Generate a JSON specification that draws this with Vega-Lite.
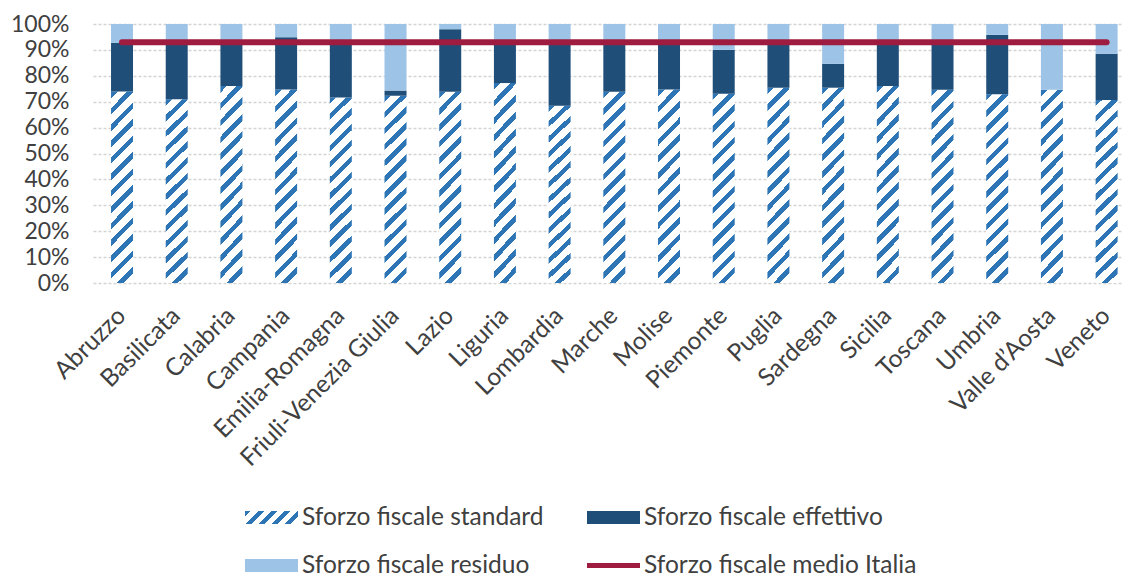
{
  "$schema": "https://vega.github.io/schema/vega-lite/v6.json",
  "width": 1030,
  "height": 259,
  "autosize": {"type": "none"},
  "padding": {"left": 93, "top": 24, "right": 0, "bottom": 297},
  "background": "white",
  "config": {
    "font": "Lato",
    "view": {"stroke": null},
    "axis": {"labelFont": "Lato", "labelFontSize": 23, "labelColor": "#404040", "domain": false, "ticks": false, "title": null, "labelOverlap": false}
  },
  "data": {"values": [
    {"region": "Abruzzo", "std": 73.9, "eff": 92.7, "media": 93},
    {"region": "Basilicata", "std": 70.9, "eff": 92.5, "media": 93},
    {"region": "Calabria", "std": 76.1, "eff": 92.5, "media": 93},
    {"region": "Campania", "std": 74.7, "eff": 94.9, "media": 93},
    {"region": "Emilia-Romagna", "std": 71.6, "eff": 92.5, "media": 93},
    {"region": "Friuli-Venezia Giulia", "std": 72.3, "eff": 74.3, "media": 93},
    {"region": "Lazio", "std": 73.8, "eff": 98.0, "media": 93},
    {"region": "Liguria", "std": 77.2, "eff": 92.5, "media": 93},
    {"region": "Lombardia", "std": 68.4, "eff": 92.8, "media": 93},
    {"region": "Marche", "std": 73.8, "eff": 92.5, "media": 93},
    {"region": "Molise", "std": 74.7, "eff": 92.5, "media": 93},
    {"region": "Piemonte", "std": 73.1, "eff": 90.0, "media": 93},
    {"region": "Puglia", "std": 75.4, "eff": 92.5, "media": 93},
    {"region": "Sardegna", "std": 75.4, "eff": 84.6, "media": 93},
    {"region": "Sicilia", "std": 76.1, "eff": 92.5, "media": 93},
    {"region": "Toscana", "std": 74.6, "eff": 92.5, "media": 93},
    {"region": "Umbria", "std": 72.9, "eff": 95.8, "media": 93},
    {"region": "Valle d’Aosta", "std": 74.6, "eff": 74.6, "media": 93},
    {"region": "Veneto", "std": 70.7, "eff": 88.5, "media": 93}
  ]},
  "encoding": {
    "x": {
      "field": "region", "type": "nominal", "sort": null,
      "scale": {"paddingInner": 0.598, "paddingOuter": 0.214, "align": 0.77, "round": false},
      "axis": {"title": null, "labelAngle": -45, "labelAlign": "right", "labelBaseline": "middle", "labelPadding": 29, "labelOffset": 0, "labelFontSize": 24.5, "grid": false, "labelLimit": 400}
    }
  },
  "layer": [
    {
      "mark": {"type": "bar", "strokeWidth": 0,
        "stroke": {"gradient": "linear", "id": "hatchLegend", "x1": 0, "y1": 0, "x2": 1.175, "y2": 0.288, "stops": [
          {"offset": 0, "color": "#2E75B6"}, {"offset": 0.09, "color": "#2E75B6"}, {"offset": 0.09, "color": "#FFFFFF"}, {"offset": 0.2, "color": "#FFFFFF"},
          {"offset": 0.2, "color": "#2E75B6"}, {"offset": 0.29, "color": "#2E75B6"}, {"offset": 0.29, "color": "#FFFFFF"}, {"offset": 0.4, "color": "#FFFFFF"},
          {"offset": 0.4, "color": "#2E75B6"}, {"offset": 0.49, "color": "#2E75B6"}, {"offset": 0.49, "color": "#FFFFFF"}, {"offset": 0.6, "color": "#FFFFFF"},
          {"offset": 0.6, "color": "#2E75B6"}, {"offset": 0.69, "color": "#2E75B6"}, {"offset": 0.69, "color": "#FFFFFF"}, {"offset": 0.8, "color": "#FFFFFF"},
          {"offset": 0.8, "color": "#2E75B6"}, {"offset": 0.89, "color": "#2E75B6"}, {"offset": 0.89, "color": "#FFFFFF"}, {"offset": 1, "color": "#FFFFFF"}
        ]},
        "fill": {"gradient": "linear", "id": "hatchBar", "x1": 0, "y1": 0, "x2": 0.1275, "y2": 1.101, "stops": [
        {"offset": 0, "color": "#2E75B6"}, {"offset": 0.030769, "color": "#2E75B6"}, {"offset": 0.030769, "color": "#FFFFFF"}, {"offset": 0.076923, "color": "#FFFFFF"},
        {"offset": 0.076923, "color": "#2E75B6"}, {"offset": 0.107692, "color": "#2E75B6"}, {"offset": 0.107692, "color": "#FFFFFF"}, {"offset": 0.153846, "color": "#FFFFFF"},
        {"offset": 0.153846, "color": "#2E75B6"}, {"offset": 0.184615, "color": "#2E75B6"}, {"offset": 0.184615, "color": "#FFFFFF"}, {"offset": 0.230769, "color": "#FFFFFF"},
        {"offset": 0.230769, "color": "#2E75B6"}, {"offset": 0.261538, "color": "#2E75B6"}, {"offset": 0.261538, "color": "#FFFFFF"}, {"offset": 0.307692, "color": "#FFFFFF"},
        {"offset": 0.307692, "color": "#2E75B6"}, {"offset": 0.338462, "color": "#2E75B6"}, {"offset": 0.338462, "color": "#FFFFFF"}, {"offset": 0.384615, "color": "#FFFFFF"},
        {"offset": 0.384615, "color": "#2E75B6"}, {"offset": 0.415385, "color": "#2E75B6"}, {"offset": 0.415385, "color": "#FFFFFF"}, {"offset": 0.461538, "color": "#FFFFFF"},
        {"offset": 0.461538, "color": "#2E75B6"}, {"offset": 0.492308, "color": "#2E75B6"}, {"offset": 0.492308, "color": "#FFFFFF"}, {"offset": 0.538462, "color": "#FFFFFF"},
        {"offset": 0.538462, "color": "#2E75B6"}, {"offset": 0.569231, "color": "#2E75B6"}, {"offset": 0.569231, "color": "#FFFFFF"}, {"offset": 0.615385, "color": "#FFFFFF"},
        {"offset": 0.615385, "color": "#2E75B6"}, {"offset": 0.646154, "color": "#2E75B6"}, {"offset": 0.646154, "color": "#FFFFFF"}, {"offset": 0.692308, "color": "#FFFFFF"},
        {"offset": 0.692308, "color": "#2E75B6"}, {"offset": 0.723077, "color": "#2E75B6"}, {"offset": 0.723077, "color": "#FFFFFF"}, {"offset": 0.769231, "color": "#FFFFFF"},
        {"offset": 0.769231, "color": "#2E75B6"}, {"offset": 0.8, "color": "#2E75B6"}, {"offset": 0.8, "color": "#FFFFFF"}, {"offset": 0.846154, "color": "#FFFFFF"},
        {"offset": 0.846154, "color": "#2E75B6"}, {"offset": 0.876923, "color": "#2E75B6"}, {"offset": 0.876923, "color": "#FFFFFF"}, {"offset": 0.923077, "color": "#FFFFFF"},
        {"offset": 0.923077, "color": "#2E75B6"}, {"offset": 0.953846, "color": "#2E75B6"}, {"offset": 0.953846, "color": "#FFFFFF"}, {"offset": 1, "color": "#FFFFFF"}
      ]}},
      "encoding": {
        "y": {"field": "std", "type": "quantitative", "scale": {"domain": [0, 100], "nice": false, "zero": true},
          "axis": {"title": null, "values": [0, 10, 20, 30, 40, 50, 60, 70, 80, 90, 100], "tickCount": 20, "labelExpr": "datum.value + '%'", "grid": true, "gridColor": "#D4D4D4", "gridDash": [3, 2], "gridWidth": 1.5, "labelPadding": 24}},
        "y2": {"datum": 0}
      }
    },
    {
      "mark": {"type": "bar"},
      "encoding": {
        "y": {"field": "std", "type": "quantitative",
          "axis": {"title": null, "values": [0, 10, 20, 30, 40, 50, 60, 70, 80, 90, 100], "tickCount": 20, "labelExpr": "datum.value + '%'", "grid": true, "gridColor": "#D4D4D4", "gridDash": [3, 2], "gridWidth": 1.5, "labelPadding": 24}},
        "y2": {"field": "eff"},
        "color": {
          "datum": "Sforzo fiscale effettivo", "type": "nominal",
          "scale": {"domain": ["Sforzo fiscale standard", "Sforzo fiscale residuo", "Sforzo fiscale effettivo", "Sforzo fiscale medio Italia"], "range": ["url(#hatchLegend)", "#9DC3E6", "#1F4E79", "url(#lineLegend)"]},
          "legend": {
            "title": null, "orient": "none", "legendX": 152, "legendY": 467, "columns": 2, "columnPadding": 43, "rowPadding": 10, "padding": 0,
            "labelFont": "Lato", "labelFontSize": 24.5, "labelColor": "#404040", "labelOffset": 4, "labelLimit": 400,
            "symbolSize": 2809, "symbolType": "M-1,-0.245H1V0.245H-1Z",
            "symbolStrokeWidth": 0, "symbolStrokeColor": "transparent"
          }
        }
      }
    },
    {
      "mark": {"type": "bar", "strokeWidth": 0,
        "stroke": {"gradient": "linear", "id": "lineLegend", "x1": 0, "y1": 0, "x2": 0, "y2": 1, "stops": [
          {"offset": 0, "color": "#FFFFFF"}, {"offset": 0.3, "color": "#FFFFFF"}, {"offset": 0.3, "color": "#9E1C40"},
          {"offset": 0.7, "color": "#9E1C40"}, {"offset": 0.7, "color": "#FFFFFF"}, {"offset": 1, "color": "#FFFFFF"}
        ]}},
      "encoding": {
        "y": {"field": "eff", "type": "quantitative",
          "axis": {"title": null, "values": [0, 10, 20, 30, 40, 50, 60, 70, 80, 90, 100], "tickCount": 20, "labelExpr": "datum.value + '%'", "grid": true, "gridColor": "#D4D4D4", "gridDash": [3, 2], "gridWidth": 1.5, "labelPadding": 24}},
        "y2": {"datum": 100},
        "color": {"datum": "Sforzo fiscale residuo", "type": "nominal"}
      }
    },
    {
      "mark": {"type": "line", "color": "#9E1C40", "strokeWidth": 6, "strokeCap": "round"},
      "encoding": {
        "y": {"field": "media", "type": "quantitative",
          "axis": {"title": null, "values": [0, 10, 20, 30, 40, 50, 60, 70, 80, 90, 100], "tickCount": 20, "labelExpr": "datum.value + '%'", "grid": true, "gridColor": "#D4D4D4", "gridDash": [3, 2], "gridWidth": 1.5, "labelPadding": 24}}
      }
    }
  ]
}
